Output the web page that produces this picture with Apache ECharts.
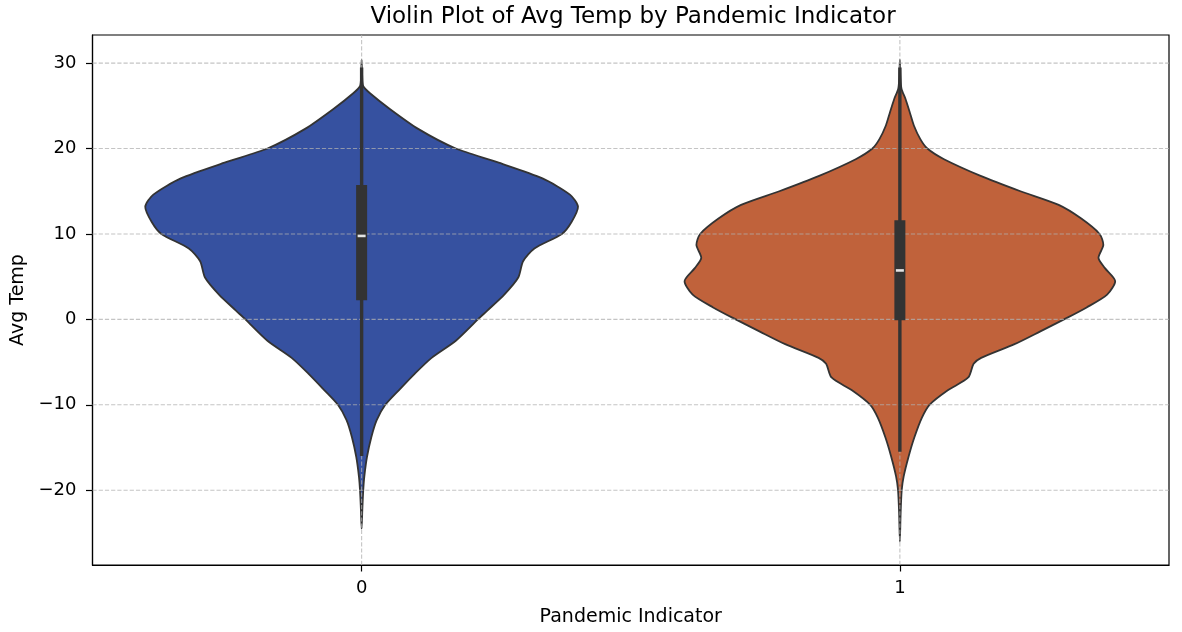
<!DOCTYPE html>
<html><head><meta charset="utf-8">
<script src="https://cdn.jsdelivr.net/npm/echarts@6/dist/echarts.min.js"></script>
<style>html,body{margin:0;padding:0;background:#fff}#c{width:1182px;height:632px}</style>
</head><body><div id="c"></div>
<script>
// ---- data ----
const categories = ['0', '1'];
const yTicks = [-20, -10, 0, 10, 20, 30];

// violin outline profiles: y value and half-width (in category units)
const violinY0 = [30.4, 28.5, 27.3, 26.5, 24.6, 22.3, 20, 18.4, 16.5, 14.6, 13.2, 11.4, 10, 8.3, 6.8, 4.9, 2.9, 1.0, 0, -2.5, -4.5, -6.4, -8.3, -10, -11.8, -13.8, -16.1, -18.4, -20, -22.3, -24.5];
const violinW0 = [0, 0.001, 0.003, 0.015, 0.053, 0.105, 0.175, 0.252, 0.336, 0.387, 0.402, 0.390, 0.372, 0.321, 0.300, 0.291, 0.265, 0.233, 0.216, 0.175, 0.130, 0.098, 0.069, 0.044, 0.028, 0.018, 0.010, 0.005, 0.003, 0.0013, 0];
const violinY1 = [30.4, 28.5, 27.0, 25.8, 24.2, 22.7, 21.1, 20, 18.75, 16.8, 15.0, 13.4, 11.8, 10, 8.7, 7.2, 6.0, 4.5, 2.9, 1.4, 0, -1.4, -2.9, -4.5, -5.2, -6.8, -8.3, -10, -11.5, -13.8, -16.1, -18.4, -20, -22.7, -26];
const violinW1 = [0, 0.001, 0.003, 0.0105, 0.0186, 0.026, 0.038, 0.051, 0.082, 0.15, 0.224, 0.295, 0.337, 0.371, 0.378, 0.369, 0.381, 0.400, 0.385, 0.347, 0.305, 0.261, 0.213, 0.151, 0.137, 0.127, 0.089, 0.055, 0.041, 0.027, 0.016, 0.007, 0.0034, 0.0014, 0];

// inner box statistics
const boxQ1 = [2.24, -0.1];
const boxMedian = [9.77, 5.73];
const boxQ3 = [15.73, 11.61];
const whiskerLow = [-16.0, -15.5];
const whiskerHigh = [29.5, 29.5];

const colors = ['#3651a0', '#c0623b'];

// ---- chart ----
const X_MIN = -0.5, X_MAX = 1.5, Y_MIN = -28.75, Y_MAX = 33.29;
const profilesY = [violinY0, violinY1];
const profilesW = [violinW0, violinW1];
const FONT = 'DejaVu Sans';

const chart = echarts.init(document.getElementById('c'));

function renderViolin(params, api) {
  const i = api.value(0);
  const ys = profilesY[i], ws = profilesW[i];
  const n = ys.length;
  const pts = [];
  for (let k = 0; k < n; k++) pts.push(api.coord([i + ws[k], ys[k]]));
  for (let k = n - 2; k >= 1; k--) pts.push(api.coord([i - ws[k], ys[k]]));
  return {
    type: 'polygon',
    shape: { points: pts, smooth: 0.25 },
    style: { fill: colors[i], stroke: '#333333', lineWidth: 1.8, lineJoin: 'round' }
  };
}

function renderGrid(params, api) {
  const kind = api.value(0), v = api.value(1);
  let a, b;
  if (kind === 0) { a = api.coord([X_MIN, v]); b = api.coord([X_MAX, v]); }
  else { a = api.coord([v, Y_MIN]); b = api.coord([v, Y_MAX]); }
  return {
    type: 'line',
    shape: { x1: a[0], y1: a[1], x2: b[0], y2: b[1] },
    style: { stroke: 'rgba(176,176,176,0.75)', lineWidth: 1.1, lineDash: [4.2, 2] }
  };
}

function renderBox(params, api) {
  const i = api.value(0);
  const lo = api.coord([i, api.value(4)]);
  const hi = api.coord([i, api.value(5)]);
  const b1 = api.coord([i, api.value(1)]);
  const b3 = api.coord([i, api.value(3)]);
  const md = api.coord([i, api.value(2)]);
  const bw = 11, mw = 8, mh = 2.6;
  return {
    type: 'group',
    children: [
      { type: 'line', shape: { x1: lo[0], y1: lo[1], x2: hi[0], y2: hi[1] },
        style: { stroke: '#333333', lineWidth: 3.4 } },
      { type: 'rect', shape: { x: b3[0] - bw / 2, y: b3[1], width: bw, height: b1[1] - b3[1] },
        style: { fill: '#333333' } },
      { type: 'rect', shape: { x: md[0] - mw / 2, y: md[1] - mh / 2, width: mw, height: mh },
        style: { fill: '#e4e4e4' } }
    ]
  };
}

const gridData = yTicks.map(v => [0, v]).concat(categories.map((c, i) => [1, i]));
const boxData = categories.map((c, i) => [i, boxQ1[i], boxMedian[i], boxQ3[i], whiskerLow[i], whiskerHigh[i]]);

chart.setOption({
  animation: false,
  backgroundColor: '#ffffff',
  title: {
    text: 'Violin Plot of Avg Temp by Pandemic Indicator',
    left: 628, top: 1, textAlign: 'center',
    textStyle: { fontFamily: FONT, fontSize: 23, fontWeight: 'normal', color: '#000' }
  },
  grid: { left: 92.5, right: 13, top: 35, bottom: 62.5, show: true, borderColor: '#000', borderWidth: 1.2, backgroundColor: 'transparent' },
  xAxis: {
    type: 'value', min: X_MIN, max: X_MAX,
    name: 'Pandemic Indicator', nameLocation: 'middle', nameGap: 43,
    nameTextStyle: { fontFamily: FONT, fontSize: 19, color: '#000' },
    axisLine: { show: true, onZero: false, lineStyle: { color: '#000', width: 1.2 } },
    axisTick: { show: true, customValues: [0, 1], length: 6.5, lineStyle: { color: '#000', width: 1.2 } },
    axisLabel: { customValues: [0, 1], formatter: v => categories[Math.round(v)], margin: 14,
      fontFamily: FONT, fontSize: 18, color: '#000' },
    splitLine: { show: false }
  },
  yAxis: {
    type: 'value', min: Y_MIN, max: Y_MAX,
    name: 'Avg Temp', nameLocation: 'middle', nameGap: 65, nameRotate: 90,
    nameTextStyle: { fontFamily: FONT, fontSize: 19, color: '#000' },
    axisLine: { show: true, onZero: false, lineStyle: { color: '#000', width: 1.2 } },
    axisTick: { show: true, customValues: yTicks, length: 6.5, lineStyle: { color: '#000', width: 1.2 } },
    axisLabel: { customValues: yTicks, formatter: v => (v < 0 ? '\u2212' + Math.abs(v) : String(v)), margin: 16,
      fontFamily: FONT, fontSize: 18, color: '#000' },
    splitLine: { show: false }
  },
  series: [
    { type: 'custom', name: 'violin', data: categories.map((c, i) => [i]), renderItem: renderViolin,
      encode: { x: 0 }, z: 2, silent: true },
    { type: 'custom', name: 'grid', data: gridData, renderItem: renderGrid, z: 3, silent: true },
    { type: 'custom', name: 'box', data: boxData, renderItem: renderBox, encode: { x: 0, y: [1, 2, 3, 4, 5] }, z: 4, silent: true }
  ]
});
</script></body></html>
